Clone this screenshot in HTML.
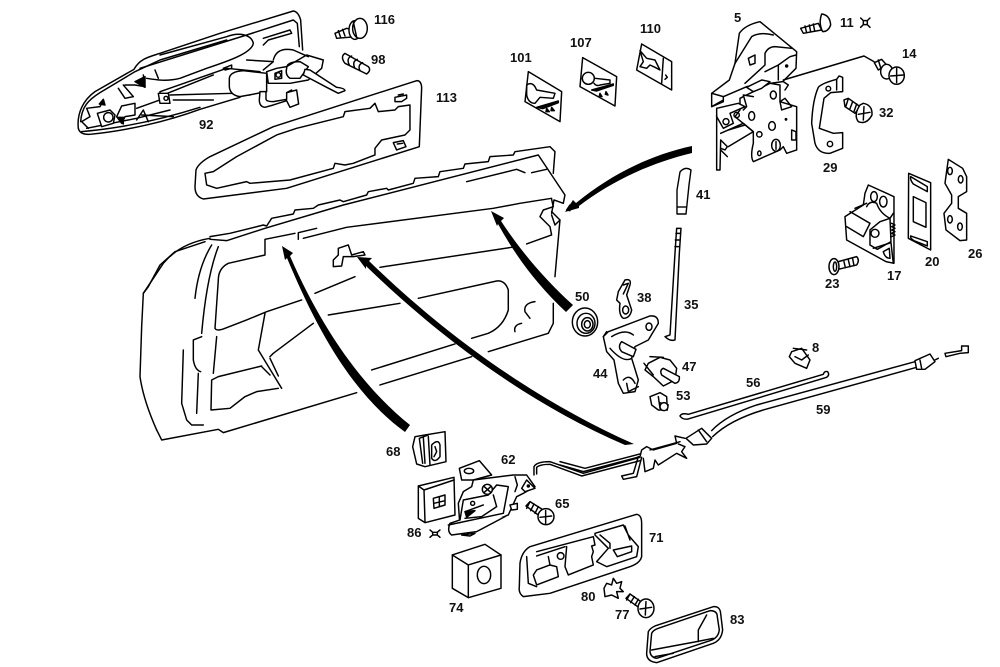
<!DOCTYPE html>
<html><head><meta charset="utf-8"><style>
html,body{margin:0;padding:0;background:#fff;width:1000px;height:667px;overflow:hidden}
svg{display:block}
text{font-family:"Liberation Sans",sans-serif;font-weight:bold;font-size:13px;fill:#111;stroke:none}
.z{fill:none;stroke:#000;stroke-width:4.4;stroke-linejoin:round;stroke-linecap:round}
.z .w{fill:#fff}
.z .k{fill:#000}
</style></head><body>
<svg width="1000" height="667" viewBox="0 0 1000 667" xmlns="http://www.w3.org/2000/svg">
<rect width="1000" height="667" fill="#fff"/>

<!-- top-left group -->
<g class="z" transform="translate(60,0) scale(.3333)">
<path d="M55,385C50,340 70,300 105,275L222,208C240,175 270,170 300,160L480,100L700,33Q715,35 722,60L728,150"/>
<path d="M62,365C65,320 85,300 120,278L225,215L300,180L500,120"/>
<path d="M240,205L560,105L700,60L712,70L718,140"/>
<path d="M55,385Q60,405 90,403C200,392 320,365 420,328L540,292"/>
<path d="M65,395C180,385 300,360 420,322M80,385L230,355L330,330"/>
<path d="M300,165L500,110C540,95 575,105 580,130C575,160 500,185 440,205L360,235C320,245 290,240 260,235"/>
<path d="M130,300L120,320L80,325L90,350L65,365L85,385M175,265L195,295L220,290L190,255M250,225L255,260L225,255L195,255M285,210L295,235M610,115L690,90L695,100L625,120L610,135"/>
<path class="w" d="M112,340L150,330L165,345L160,370L125,380Z"/>
<circle cx="145" cy="352" r="14"/>
<path d="M185,318L225,310L225,345L195,350L185,370L170,350Z"/>
<path class="k" d="M172,352L190,352L190,372Z"/><path class="k" d="M255,230L255,262L225,245Z"/><path class="k" d="M130,298L135,315L118,312Z"/>
<path d="M230,325L300,300L300,275L500,205L600,215M310,285L460,225M330,285L520,280L570,285M340,300L460,300M230,360L250,330L265,365M245,345L340,350"/>
<path class="w" d="M295,280L325,280L330,310L300,310Z"/><circle cx="318" cy="295" r="6"/>
<path class="w" d="M508,235Q510,215 550,212L620,220L620,275L540,290Q510,285 508,260Z"/>
<path d="M560,180L640,185L610,210M490,205L515,195L515,205L495,210"/>
<path class="w" d="M620,215L650,205L680,200L740,165L790,180L785,205L745,240L690,250L625,250Z"/>
<path d="M645,220L665,212L665,235L645,238ZM680,205Q680,185 720,185L745,200L720,235L690,235Q675,225 680,205Z"/>
<circle cx="655" cy="225" r="7"/>
<path d="M640,180Q650,140 700,150L745,170"/>
<path class="w" d="M735,208L750,210L830,262Q855,265 855,272L835,280L800,262L730,225Z"/>
<path class="w" d="M600,275L618,275L618,298Q620,305 640,305L680,298L680,278L710,270L716,312L690,322L680,302L640,315L615,322Q598,320 598,300Z"/>
<path d="M680,278L695,270"/>
<!-- 116 -->
<path class="w" d="M825,100L860,85L880,90L890,110L830,115Z"/><path d="M835,92L842,112M848,88L855,108"/>
<ellipse class="w" cx="885" cy="90" rx="18" ry="28"/><ellipse class="w" cx="900" cy="85" rx="22" ry="30"/><path d="M880,65L890,112"/>
<!-- 98 -->
<path class="w" d="M855,160L925,200Q935,210 920,222L855,190Q840,170 855,160Z"/><path d="M875,168Q858,175 868,195M892,178Q875,185 885,205M908,188Q892,195 900,212"/>
<!-- 113 -->
<path d="M1070,242Q1085,242 1085,265L1078,440L680,565L430,597Q405,590 405,560L408,510Q415,490 450,470L640,380Z"/>
<path d="M435,520L460,515L530,470L650,405L710,385L850,350L855,335L930,325L945,310L955,335L1005,330L1015,320L1050,315L1050,390L1035,405L965,420L945,445L945,465L880,490L855,495L825,490L820,505L690,540L570,550L560,545L470,565L440,555Z"/>
<path d="M1005,292L1040,285L1040,295L1025,305L1005,305ZM1015,285L1030,282"/>
<path d="M1000,428L1030,422L1038,440L1010,450ZM1012,432L1028,430"/>
</g>

<!-- keys -->
<g class="z" transform="translate(500,20) scale(.3333)">
<path d="M85,155L185,215L180,305L75,245Z"/>
<path d="M80,195Q95,185 105,200L110,210L165,220L160,235L120,232L105,250Q85,250 80,225Z"/>
<path class="k" d="M110,262L175,243L175,248L128,266ZM140,265l8,10l-10,0ZM155,262l8,10l-10,0Z"/>
<path d="M248,113L350,170L345,258L240,200Z"/>
<circle cx="265" cy="175" r="18"/>
<path d="M285,175L330,180L330,190L300,195Q290,200 282,190"/>
<path class="k" d="M275,210L340,192L340,196L290,213ZM300,220l6,10l-8,-2ZM318,215l6,10l-8,-2Z"/>
<path d="M425,72L515,125L515,210L410,150Z"/>
<path d="M420,92L440,115L465,120L480,150L465,142L450,135L440,145L420,140L430,125Z"/>
<path d="M490,115L485,190M497,165L502,172L495,178"/>
</g>

<!-- latch and strikers -->
<g class="z" transform="translate(690,0) scale(.3333)">
<path class="w" d="M65,280L118,240L135,190L148,100Q165,75 210,65L320,155L318,205L278,245L170,260L100,290Z"/>
<path d="M135,190L185,110Q210,95 250,105M165,250L225,195L225,160Q235,140 255,140L305,145M225,215L265,195L265,240M265,195L300,170L318,165"/>
<path class="w" d="M175,175L195,165L195,190L180,195Z"/>
<circle class="k" cx="290" cy="198" r="3"/>
<path class="w" d="M150,295L240,250L270,255L270,305L320,320L320,450L290,460L280,440L270,450L190,485Q180,470 190,430L190,395L135,350L150,330Z"/>
<path class="w" d="M170,262L215,240L240,245L215,265L190,275ZM190,290L160,285L170,320L160,330"/>
<path d="M270,305L285,295L305,320L275,330Z"/>
<path d="M305,390L318,395L318,420L305,420Z"/>
<ellipse cx="185" cy="348" rx="9" ry="13"/><ellipse cx="246" cy="378" rx="10" ry="13"/><ellipse cx="250" cy="285" rx="9" ry="12"/>
<ellipse cx="258" cy="436" rx="13" ry="18"/><ellipse cx="208" cy="460" rx="5" ry="7"/><circle cx="208" cy="403" r="8"/><circle class="k" cx="288" cy="358" r="2"/>
<path d="M258,425L258,448M280,245L295,255L285,270"/>
<path class="w" d="M65,280L65,320L100,305L100,290Z"/>
<path d="M100,300L65,320"/>
<path class="w" d="M80,325L145,310L165,320L120,340L130,370L100,385L80,350Z"/><circle cx="108" cy="365" r="9"/><circle cx="140" cy="345" r="8"/>
<path d="M80,345L80,510L90,510L92,420M92,400L160,370L190,395M115,390L165,375M115,440L190,395"/>
<path d="M92,420L112,440L105,450L92,445M92,450L112,470"/>
<path d="M280,240L522,168L552,185"/>
<!-- 11 -->
<path class="w" d="M332,85L385,70L395,90L340,100Z"/><path d="M345,78L350,98M358,75L362,95M370,72L374,92"/>
<path class="w" d="M395,42Q420,45 422,75Q415,95 398,95Q385,70 395,42Z"/>
<path d="M512,54L520,62L532,62L540,54M512,82L520,74L532,74L540,82M520,62L520,74M532,62L532,74"/>
<!-- 14 -->
<path class="w" d="M553,188L575,178L590,195L565,210Z"/><path d="M565,180L572,203"/>
<ellipse class="w" cx="590" cy="215" rx="18" ry="22"/>
<ellipse class="w" cx="620" cy="227" rx="23" ry="26"/><path d="M620,205L620,248M602,228L640,225"/>
<!-- 29 -->
<path class="w" d="M385,262Q395,250 440,238L447,228L458,232L458,275L422,278L402,295L388,385L430,400L458,398L458,445L420,460Q385,462 375,430L365,370Q368,300 385,262Z"/>
<path d="M440,240L440,270"/>
<circle cx="415" cy="266" r="7"/><circle cx="420" cy="432" r="8"/>
<!-- 32 -->
<path class="w" d="M462,300L475,295L510,320L495,340L465,320Z"/><path d="M475,296L468,318M488,305L480,326M500,312L492,335"/>
<path class="w" d="M520,310Q548,315 546,345Q530,375 505,365Q490,345 510,315Z"/><path d="M522,320L520,360M505,343L540,337"/>
<!-- 17 -->
<path class="w" d="M535,555L612,590L612,790L588,785L470,720L465,650L520,615L525,580Z"/>
<path d="M480,635L540,670L520,710L470,680M495,625L530,610M530,620Q540,600 560,610Q570,640 600,655L610,640"/>
<path class="w" d="M540,690L570,665L600,655L603,725L562,748L540,735Z"/>
<ellipse cx="552" cy="590" rx="10" ry="15"/><ellipse cx="580" cy="605" rx="11" ry="16"/><circle cx="555" cy="700" r="12"/>
<path d="M550,745L603,728L610,790M580,755L598,745L600,775Q585,775 580,755Z"/>
<path d="M605,670l10,5l-10,5l10,5l-10,5l10,5l-10,5l10,5l-10,5"/>
<!-- 20 -->
<path class="w" d="M656,520L722,548L722,750L655,715Z"/>
<path d="M662,530L712,560L712,575L670,552Q660,540 662,530ZM662,708L712,725L712,738L672,722Q660,715 662,708Z"/>
<path d="M670,590L708,608L708,682L670,665Z"/>
<!-- 26 -->
<path class="w" d="M775,478L818,505L830,530L830,575L805,590L805,625L830,640L830,720L810,722L768,690L762,640L785,610L785,585L765,550Z"/>
<ellipse cx="780" cy="513" rx="7" ry="11"/><ellipse cx="812" cy="538" rx="7" ry="11"/><ellipse cx="780" cy="658" rx="7" ry="11"/><ellipse cx="810" cy="680" rx="7" ry="11"/>
<!-- 23 -->
<path class="w" d="M445,785L500,770Q510,780 500,795L445,808Z"/><path d="M462,785L466,803M475,780L480,800M488,776L492,797"/>
<ellipse class="w" cx="432" cy="800" rx="15" ry="24"/><ellipse cx="435" cy="800" rx="5" ry="14"/>
</g>

<!-- door -->
<g class="z" transform="translate(130,140) scale(.3333)">
<path d="M240,290L300,280L400,255L410,258L425,235L490,222L495,210L550,205L565,195L630,180L640,185L710,165L715,155L770,145L775,150L850,130L855,115L925,110L930,95L1000,85L1005,72L1075,65L1080,50L1150,45L1155,35L1260,20L1275,35L1270,100"/>
<path d="M240,298L290,302L405,265L640,195L1225,45L1305,165L1300,190L1272,180L1265,220"/>
<path d="M1010,125L1160,88L1185,98M1205,98L1250,88"/>
<path d="M405,298L495,280M505,298L505,278L560,265M520,295L650,262L1090,205L1170,190L1265,175"/>
<path d="M1265,178L1270,200L1240,210L1230,230L1260,260L1265,285L1190,312M1145,322L750,382M1265,215L1290,240L1275,255L1265,225"/>
<path class="k" d="M1310,210L1320,195L1320,212Z"/>
<path d="M1290,240L1275,410M1270,490L1270,550L1255,580L1075,635M1025,650L750,735M680,758L280,878L265,868L95,900L80,870M40,460L100,370Q150,310 240,295"/>
<path d="M80,870Q40,780 30,710L35,560L40,460L55,440L90,375L135,335L225,305"/>
<path d="M245,315Q205,380 195,475M265,320Q230,410 215,580M405,300L405,345L295,370Q265,385 265,420L255,565Q260,575 285,565L350,540L410,515L515,480M555,460L675,410"/>
<path d="M260,590L250,700M215,590L190,600L190,660Q195,690 212,695M160,630L155,790L170,840L185,855L220,855M205,700L200,820"/>
<path d="M405,520L385,630L455,745M420,655L445,708M420,650L430,640L550,550"/>
<path d="M395,678L265,710L245,720L243,810L300,805L345,770L380,755L445,745M395,680L420,705"/>
<path d="M595,525L810,490M865,475L1100,423Q1125,420 1135,450L1135,510Q1120,560 1075,580L1025,595M975,612L725,690"/>
<path d="M625,325L655,315L665,345L700,335L705,345L670,350L640,350L635,378L610,380L610,360L625,345Z"/>
<path d="M1215,485Q1180,490 1185,515L1200,535M1175,550Q1150,555 1155,575"/>
</g>

<!-- 68, 62, 86, 74, 71, 83 etc -->
<g class="z" transform="translate(380,420) scale(.3333)">
<!-- 68 -->
<path class="w" d="M135,45L195,35L198,125L135,140L110,132L98,80L105,50Z"/>
<path d="M118,55L128,130M130,52L135,130M118,55L145,45M145,50L150,135"/>
<path d="M155,75Q175,55 180,75L180,110Q165,130 155,115Z"/><path d="M165,80L170,95L162,110"/>
<!-- 86 -->
<path class="w" d="M115,198L222,172L225,285L135,308L115,295Z"/><path d="M115,198L132,210L222,180M132,210L135,305"/>
<path d="M160,235L195,225L195,255L162,265ZM178,230L178,260M162,250L195,242"/>
<path d="M150,330L158,337L172,337L180,330M150,352L158,345L172,345L180,352M158,337L158,345M172,337L172,345"/>
<!-- 62 -->
<path class="w" d="M238,145L298,122L335,165L280,180L245,180Z"/>
<ellipse cx="267" cy="153" rx="14" ry="8"/>
<path class="w" d="M280,180L400,165L440,165L465,200L430,220L410,230L385,285L300,320L240,320L235,250L250,215L275,200Z"/>
<path class="w" d="M205,315L370,280L385,200L350,195L325,225L250,240L240,300L210,310Q200,335 215,345L290,335L375,290"/>
<circle class="w" cx="322" cy="208" r="15"/><path d="M313,200L332,217M332,200L313,217"/>
<circle cx="278" cy="250" r="6"/><path d="M255,275L310,255M340,225L350,260L305,290L255,295"/>
<path class="k" d="M255,275L285,272L260,292Z"/>
<path class="w" d="M405,170L412,195L405,215M440,180L465,205L435,215L425,205Z"/><circle class="k" cx="445" cy="198" r="3"/>
<path class="w" d="M390,255L412,250L412,268L395,270Z"/><path d="M245,345L285,340L270,348Z"/>
<!-- rod -->
<path d="M462,165L462,140Q470,125 510,125L610,160L780,112M470,162L470,142Q480,133 510,133L605,168L780,122"/>
<!-- 65 -->
<path class="w" d="M438,258L450,245L490,270L475,285Z"/><path d="M450,245L440,265M462,252L452,272M475,260L465,280"/>
<circle class="w" cx="498" cy="290" r="24"/><path d="M497,272L497,310M480,292L515,288"/>
<!-- 74 -->
<path class="w" d="M217,405L315,373L363,405L363,505L265,533L217,505Z"/><path d="M217,405L265,435L363,405M265,435L265,533"/>
<ellipse cx="312" cy="465" rx="20" ry="26"/>
<!-- 71 -->
<path class="w" d="M420,430Q425,395 450,380L770,283Q785,285 785,310L785,410Q780,430 750,440L510,520L430,530Q415,520 418,500Z"/>
<path d="M470,395L640,350L645,375L635,378L640,395L635,410L640,435L565,465L555,440L560,380M470,408L555,380M505,410L510,435L470,450L460,465L470,495L535,470L530,440L510,435M440,410L445,490L470,500"/>
<circle cx="542" cy="408" r="10"/>
<path d="M645,340L730,315L745,345L775,380L770,410L680,440L650,425L685,385L645,345ZM735,318L750,360"/>
<path d="M700,390L755,378L755,395L712,410Z"/>
<path d="M660,345L690,370L690,385"/>
<!-- 80 -->
<path class="w" d="M680,490L695,495L700,475L710,490L725,485L720,505L730,515L710,515L715,535L695,525L675,530L672,505Z"/>
<!-- 77 -->
<path class="w" d="M738,535L750,522L790,550L780,565Z"/><path d="M750,522L740,540M763,530L752,548M775,538L765,555"/>
<ellipse class="w" cx="798" cy="565" rx="24" ry="28"/><path d="M798,545L796,585M780,567L815,562"/>
<!-- 83 -->
<path d="M805,635Q810,625 825,618L1000,560Q1020,558 1022,580L1028,630Q1025,660 1000,670L830,728Q800,725 800,700Z"/>
<path d="M815,640Q820,630 835,625L990,572Q1012,572 1012,590L1018,630Q1015,655 990,662L830,715Q812,712 810,695Z"/>
<path d="M815,690L950,665L1000,655M955,665L955,630L980,585M825,710L880,700"/>
</g>

<!-- cable, levers -->
<g class="z" transform="translate(560,220) scale(.3333)">
<!-- 35 -->
<path d="M350,25L363,25L358,100L345,360Q330,365 315,350L330,345L345,100Z"/>
<path d="M348,40L360,40M346,60L358,60M345,80L356,80"/>
<!-- 38 -->
<path class="w" d="M195,180Q215,175 210,195L200,225L215,270Q210,295 190,295Q175,285 180,250L170,240L175,215Z"/>
<ellipse cx="197" cy="270" rx="9" ry="12"/>
<path d="M190,195L205,190L190,222"/>
<!-- 50 -->
<ellipse class="w" cx="75" cy="306" rx="38" ry="42"/><ellipse cx="78" cy="310" rx="27" ry="30"/><ellipse cx="82" cy="313" rx="17" ry="20"/><ellipse cx="82" cy="313" rx="9" ry="11"/>
<!-- 44 -->
<path class="w" d="M145,335L185,320L270,288Q295,285 295,310L265,360L225,380L215,415L235,480L225,515L190,520L175,490L162,420L140,395L130,350Z"/>
<ellipse cx="267" cy="320" rx="9" ry="11"/><path d="M155,350Q195,325 220,345M150,385Q190,430 215,415"/>
<path class="w" d="M185,365L228,388L220,410L185,395Q172,380 185,365Z"/>
<path d="M190,480Q210,460 225,490M200,490L205,515L235,500M140,335L130,350"/>
<!-- 47 -->
<path class="w" d="M265,430L300,412L330,420L350,445L345,480L310,498L280,470L255,450Z"/>
<path d="M270,410L310,412M252,430L280,465"/>
<path class="w" d="M310,445L358,470Q360,488 345,490L305,465Q298,450 310,445Z"/>
<!-- 53 -->
<path class="w" d="M270,530L300,518L320,530L322,570L295,570L275,555Z"/>
<path d="M300,548L325,555M295,530L300,565"/><circle class="w" cx="312" cy="560" r="12"/>
<!-- 8 -->
<path class="w" d="M695,395L725,385L750,420L740,445L705,430L688,410Z"/>
<path d="M700,385L740,390M705,410L725,420L745,405"/>
<!-- 56 -->
<path d="M385,583Q365,578 360,588Q368,600 385,597L800,472Q810,465 803,455Q793,452 790,463Z"/>
<!-- 59 -->
<path d="M455,632Q500,585 590,555L1065,425M458,650Q510,600 610,570L1070,442"/>
<path class="w" d="M1065,422L1110,402L1125,425L1095,448L1070,448Z"/>
<path d="M1080,420L1085,445"/>
<path d="M1125,420L1135,415M1155,400L1205,392L1205,378L1225,378L1225,398L1200,400L1158,410Z"/>
<!-- mechanism -->
<path class="w" d="M378,655L425,625L455,655L440,672L400,675Z"/>
<path d="M415,630L440,665M375,655L345,648L350,670L280,690L260,680L245,690L240,710L70,755L0,735M0,725L75,745L240,702"/>
<path d="M355,672L375,680L365,695L380,715L350,700L295,735L285,720L280,745L255,755L250,715M245,712L230,770L190,778L185,768L220,760L235,710"/>
<path d="M270,690L360,665"/>
</g>

<!-- arrows -->
<g fill="#000" stroke="none">
<path d="M565,212L573,200L576,203C610,175 650,155 692,146L692,153C650,163 610,182 579,206L579,208Z"/>
<path d="M491,211L504,218L501,221C520,250 545,280 573,305L566,312C537,285 515,255 498,224L497,226Z"/>
<path d="M282,246L293,253L290,256C320,325 360,385 410,425L405,432C350,392 315,325 287,258L285,260Z"/>
<path d="M357,257L372,258L369,261C440,330 530,398 634,444L625,445C527,403 437,335 366,266L366,269Z"/>
</g>

<!-- labels -->
<text x="374" y="24">116</text>
<text x="371" y="64">98</text>
<text x="199" y="129">92</text>
<text x="436" y="102">113</text>
<text x="510" y="62">101</text>
<text x="570" y="47">107</text>
<text x="640" y="33">110</text>
<text x="734" y="22">5</text>
<text x="840" y="27">11</text>
<text x="902" y="58">14</text>
<text x="879" y="117">32</text>
<text x="823" y="172">29</text>
<text x="696" y="199">41</text>
<text x="887" y="280">17</text>
<text x="925" y="266">20</text>
<text x="968" y="258">26</text>
<text x="825" y="288">23</text>
<text x="575" y="301">50</text>
<text x="637" y="302">38</text>
<text x="684" y="309">35</text>
<text x="682" y="371">47</text>
<text x="593" y="378">44</text>
<text x="676" y="400">53</text>
<text x="812" y="352">8</text>
<text x="746" y="387">56</text>
<text x="816" y="414">59</text>
<text x="386" y="456">68</text>
<text x="501" y="464">62</text>
<text x="555" y="508">65</text>
<text x="407" y="537">86</text>
<text x="649" y="542">71</text>
<text x="449" y="612">74</text>
<text x="581" y="601">80</text>
<text x="615" y="619">77</text>
<text x="730" y="624">83</text>

<!-- 41 -->
<g fill="#fff" stroke="#000" stroke-width="1.4" stroke-linejoin="round">
<path d="M680,172Q685,166 691,170L689,185L686,214L677,214L677,190Z"/>
<path d="M677,207L686,207" fill="none"/>
</g>
</svg>
</body></html>
